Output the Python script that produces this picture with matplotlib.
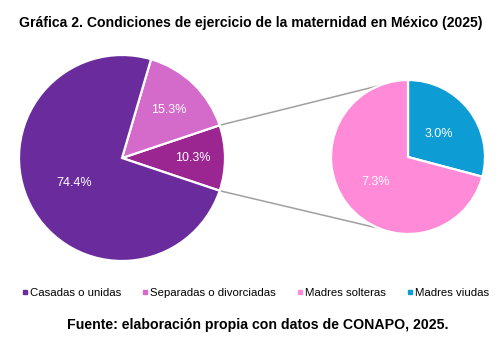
import numpy as np
import matplotlib.pyplot as plt
from matplotlib.lines import Line2D

plt.rcParams['font.family'] = ['Liberation Sans', 'DejaVu Sans']

# data (percent of mothers)
main_labels = ["Otras", "Separadas o divorciadas", "Casadas o unidas"]
main_values = [10.3, 15.3, 74.4]
main_colors = ["#9B2691", "#D46BCB", "#6A2C9C"]

sub_labels = ["Madres viudas", "Madres solteras"]
sub_values = [3.0, 7.3]
sub_colors = ["#0E9CD5", "#FF8AD8"]

legend_labels = ["Casadas o unidas", "Separadas o divorciadas", "Madres solteras", "Madres viudas"]
legend_colors = ["#6A2C9C", "#D46BCB", "#FF8AD8", "#0E9CD5"]

W, H = 500, 341
fig = plt.figure(figsize=(W / 100, H / 100), dpi=100)
ax = fig.add_axes([0, 0, 1, 1])

c1, r1 = (122, 183), 103
c2, r2 = (408, 184), 77

start = -main_values[0] / 100 * 180
w1, _ = ax.pie(main_values, colors=main_colors, startangle=start, center=c1, radius=r1,
               wedgeprops=dict(edgecolor="white", linewidth=1.6))
w2, _ = ax.pie(sub_values, colors=sub_colors, startangle=90, counterclock=False,
               center=c2, radius=r2, wedgeprops=dict(edgecolor="white", linewidth=1.6))

def put_labels(wedges, values, center, radius, dists):
    for w, v, d in zip(wedges, values, dists):
        a = np.deg2rad((w.theta1 + w.theta2) / 2)
        ax.text(center[0] + d * radius * np.cos(a), center[1] + d * radius * np.sin(a),
                f"{v:.1f}%", color="white", fontsize=9, ha="center", va="center")

put_labels(w1, main_values, c1, r1, [0.69, 0.65, 0.52])
put_labels(w2, sub_values, c2, r2, [0.5, 0.53])

# connector lines from the split slice to the second pie
for t1, t2 in [(w1[0].theta2, 112), (w1[0].theta1, -112)]:
    a1, a2 = np.deg2rad(t1), np.deg2rad(t2)
    ax.plot([c1[0] + r1 * np.cos(a1), c2[0] + r2 * np.cos(a2)],
            [c1[1] + r1 * np.sin(a1), c2[1] + r2 * np.sin(a2)],
            color="#A0A0A0", lw=1.1, zorder=0)

ax.set_xlim(0, W)
ax.set_ylim(0, H)
ax.set_aspect("equal")
ax.axis("off")

fig.text(0.501, 1 - 23 / H, "Gráfica 2. Condiciones de ejercicio de la maternidad en México (2025)",
         ha="center", va="center", fontsize=10.1, fontweight="bold")

handles = [Line2D([], [], marker="s", ls="", color=c, markersize=2.6) for c in legend_colors]
fig.legend(handles, legend_labels, loc="center", bbox_to_anchor=(0.511, 1 - 293 / H), ncol=4,
           frameon=False, fontsize=8.2, handlelength=0.4, handletextpad=0.25,
           columnspacing=1.9, borderpad=0)

fig.text(0.515, 1 - 325 / H, "Fuente: elaboración propia con datos de CONAPO, 2025.",
         ha="center", va="center", fontsize=10.2, fontweight="bold")

fig.savefig("out.png", dpi=100)
